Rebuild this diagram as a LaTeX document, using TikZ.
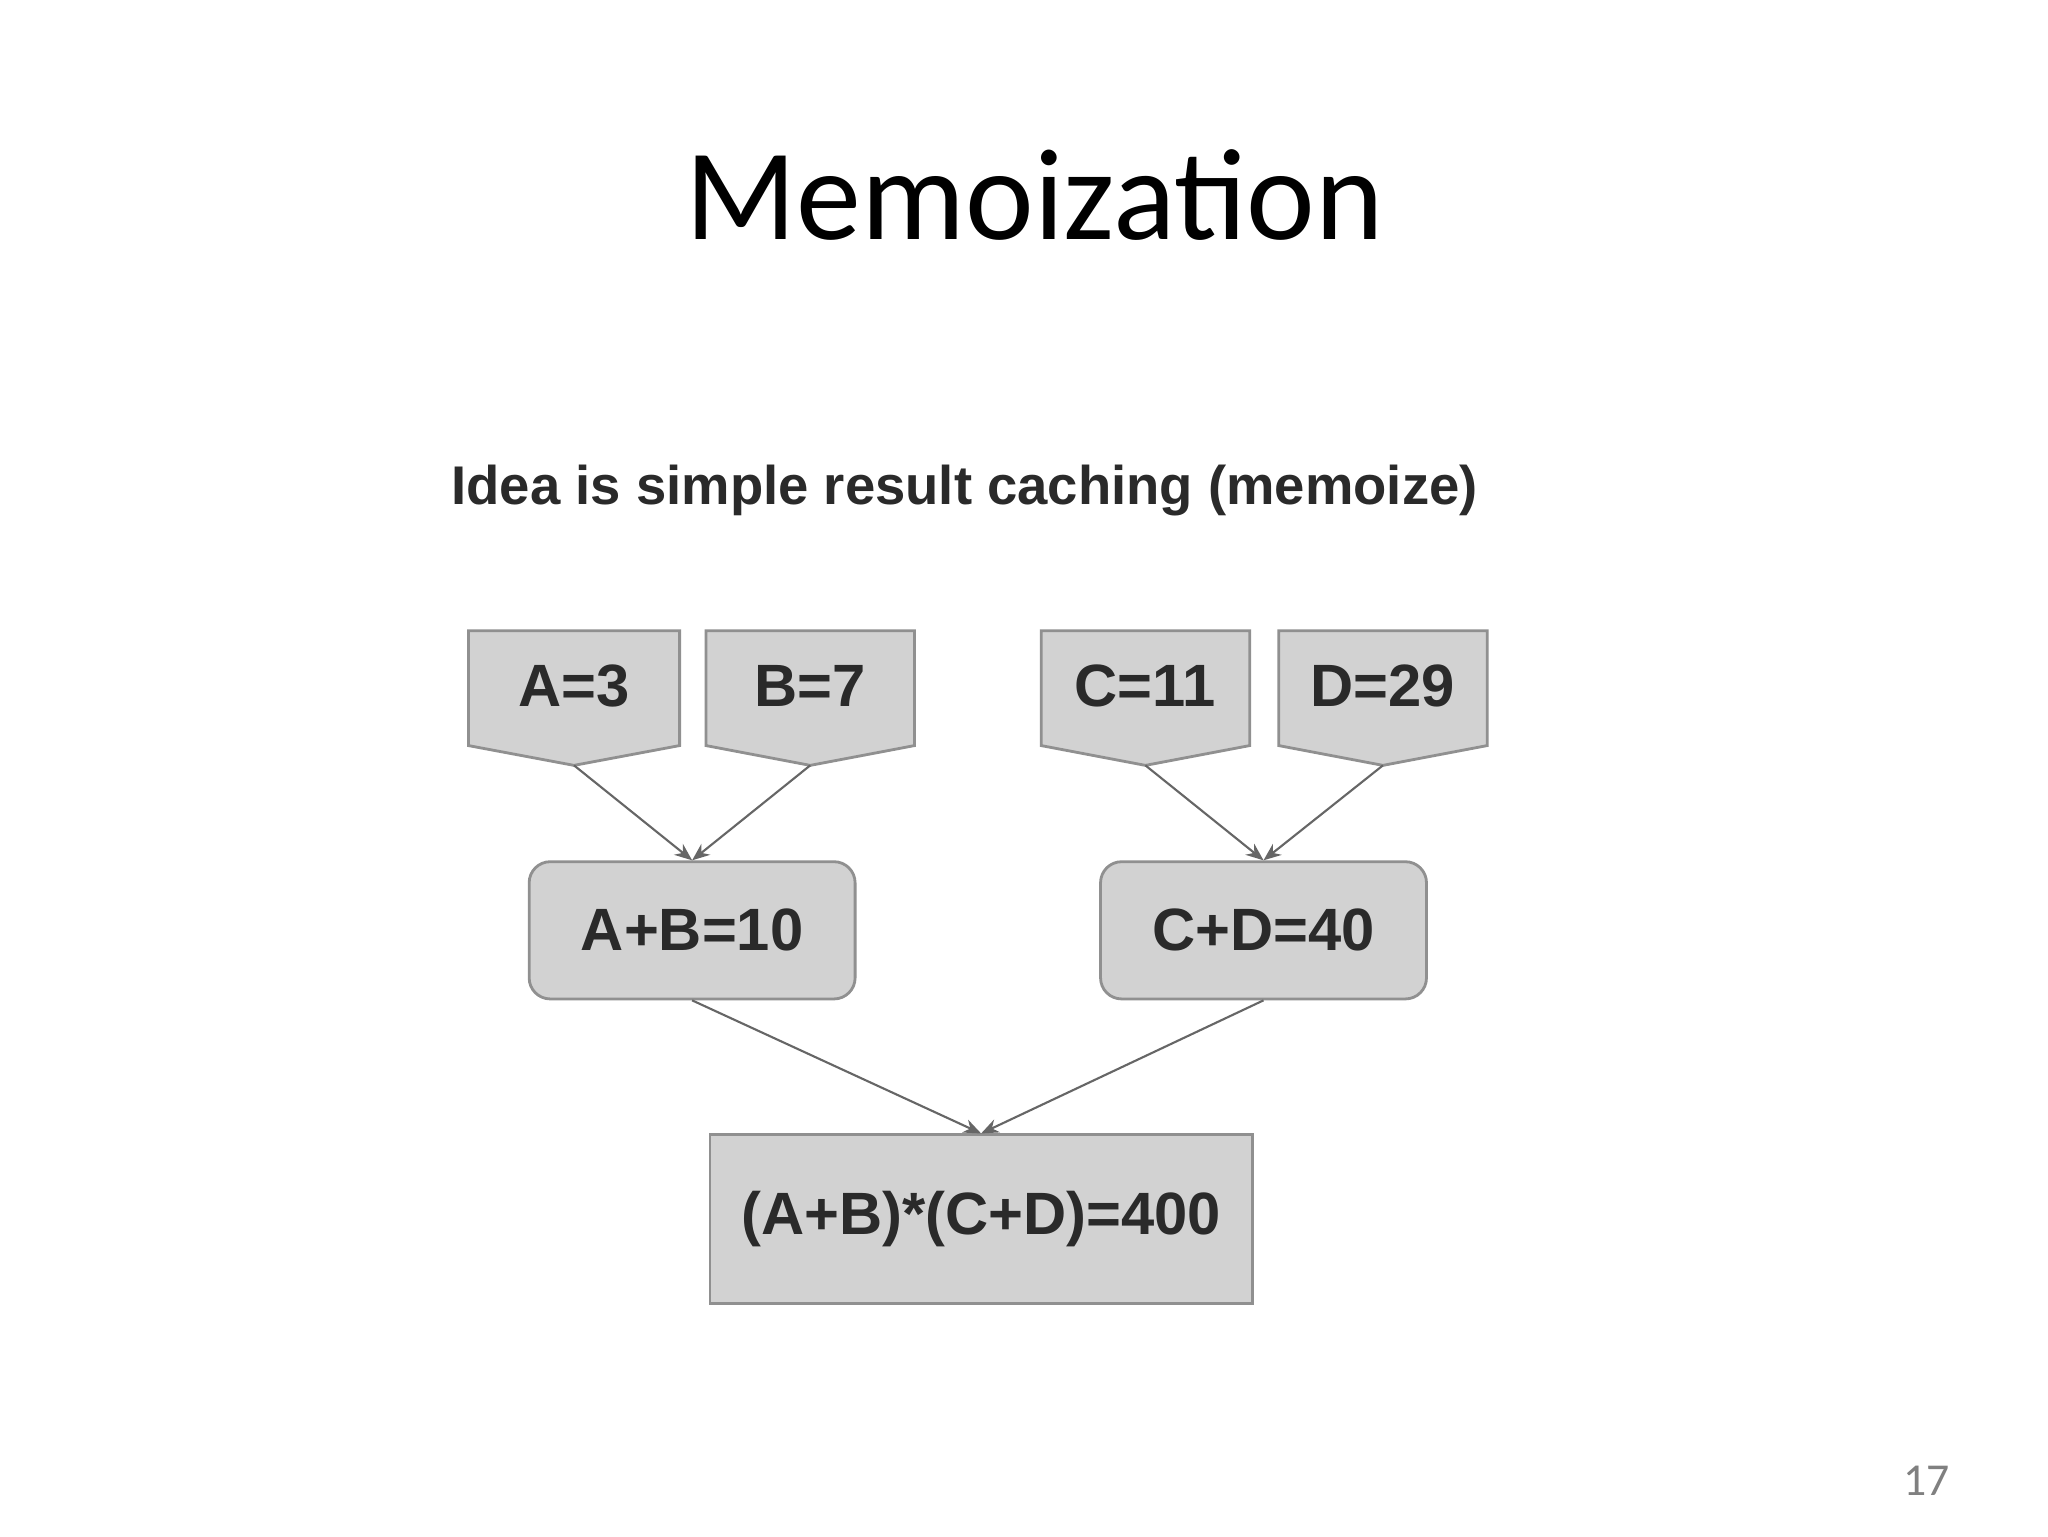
\documentclass[tikz,border=0pt]{standalone}
\usepackage{fontspec}
\setmainfont{Carlito}
\newfontfamily\diag{Liberation Sans}
\usetikzlibrary{arrows.meta}
\definecolor{boxfill}{HTML}{D2D2D2}
\definecolor{boxline}{HTML}{909090}
\definecolor{txt}{HTML}{2A2A2A}
\tikzset{
 pent/.style={fill=boxfill,draw=boxline,line width=0.8pt},
 lbl/.style={font=\diag\bfseries\fontsize{17}{20}\selectfont,text=txt},
 rbox/.style={fill=boxfill,draw=boxline,line width=0.8pt,minimum width=247*0.0132cm,minimum height=104*0.0132cm,rounded corners=6pt,lbl},
 conn/.style={draw=gray!80!black,line width=0.6pt,-{Stealth[length=5pt,width=4pt]}}
}
\newcommand{\pentagon}[3]{% left, right, name
 \draw[pent] (#1,478) -- (#2,478) -- (#2,565) -- ({(#1+#2)/2},580) -- (#1,565) -- cycle;
 \coordinate (#3tip) at ({(#1+#2)/2},580);
}
\begin{document}
\begin{tikzpicture}[x=0.0132cm,y=-0.0132cm]
\useasboundingbox (0,0) rectangle (1552,1164);
\fill[white] (0,0) rectangle (1552,1164);
\node[font=\fontsize{37}{44}\selectfont] (title) at (784,148) {Memoization};
\node[lbl,font=\diag\bfseries\fontsize{15.5}{18}\selectfont] (idea) at (731,372) {Idea is simple result caching (memoize)};
\pentagon{355}{515}{a}
\pentagon{535}{693}{b}
\pentagon{789}{947}{c}
\pentagon{969}{1127}{d}
\node[lbl] (la) at (435,520) {A=3};
\node[lbl] (lb) at (614,520) {B=7};
\node[lbl] (lc) at (868,520) {C=11};
\node[lbl] (ld) at (1048,520) {D=29};
\node[rbox] (ab) at (524.5,705) {A+B=10};
\node[rbox] (cd) at (957.5,705) {C+D=40};
\node[fill=boxfill,draw=boxline,line width=0.8pt,minimum width=411*0.0132cm,minimum height=128*0.0132cm,lbl] (res) at (743.5,924) {(A+B)*(C+D)=400};
\draw[conn] (atip) -- (ab.north);
\draw[conn] (btip) -- (ab.north);
\draw[conn] (ctip) -- (cd.north);
\draw[conn] (dtip) -- (cd.north);
\draw[conn] (ab.south) -- (res.north);
\draw[conn] (cd.south) -- (res.north);
\node[text=gray,font=\fontsize{13}{15}\selectfont] (pg) at (1460,1122) {17};
\end{tikzpicture}
\end{document}
